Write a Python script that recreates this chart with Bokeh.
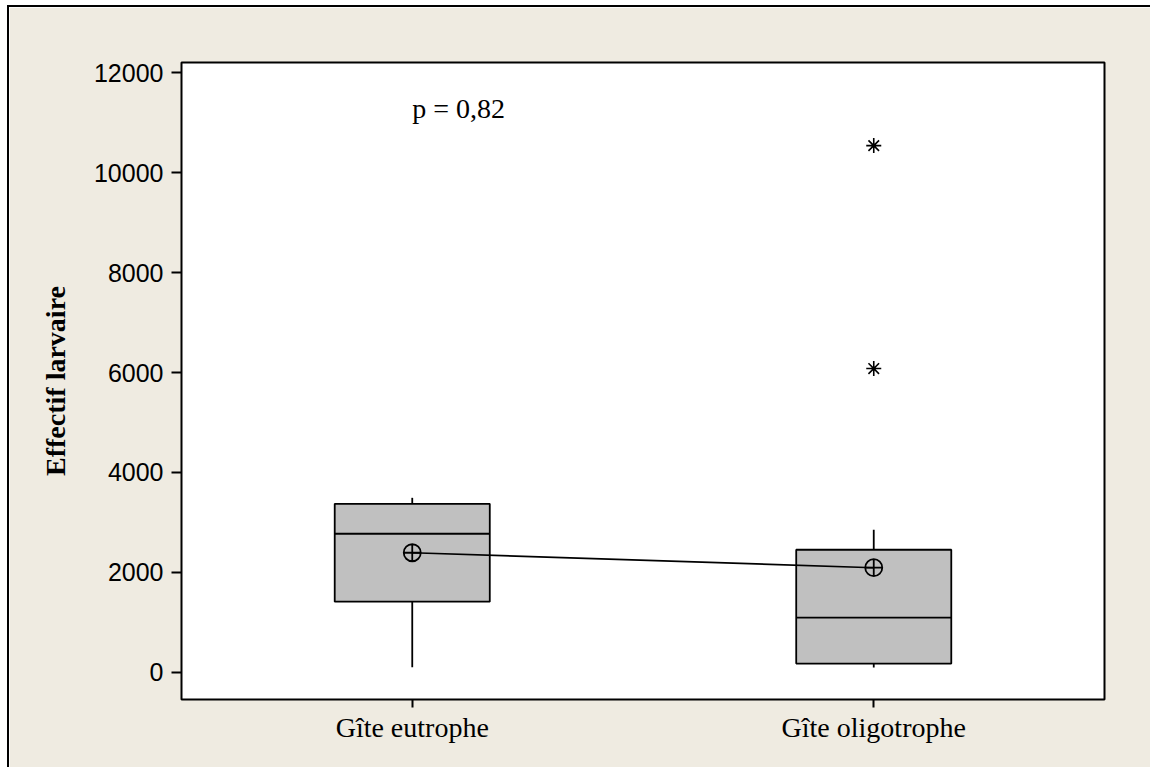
from bokeh.plotting import figure
from bokeh.models import FixedTicker, Range1d, Label
from bokeh.embed import file_html
from bokeh.resources import INLINE

# ---- data ----
categories = ["Gîte eutrophe", "Gîte oligotrophe"]
q1 = [1410, 170]
median = [2770, 1090]
q3 = [3370, 2450]
whisker_low = [96, 90]
whisker_high = [3490, 2850]
means = [2390, 2090]
outlier_category = ["Gîte oligotrophe", "Gîte oligotrophe"]
outlier_values = [10545, 6080]
y_ticks = [0, 2000, 4000, 6000, 8000, 10000, 12000]
p_text = "p = 0,82"

BEIGE = "#EFEBE1"
BOX_W = 0.336

pos = [i + 0.5 for i in range(len(categories))]
cat_pos = dict(zip(categories, pos))
out_x = [cat_pos[c] for c in outlier_category]

p = figure(width=1143, height=762,
           x_range=Range1d(0, len(categories)), y_range=Range1d(-550, 12210),
           output_backend="svg", toolbar_location=None,
           min_border_left=172, min_border_right=48,
           min_border_top=55, min_border_bottom=70,
           background_fill_color="white", border_fill_color=BEIGE,
           outline_line_color="black", outline_line_width=2,
           styles={"border-top": "2px solid black", "border-left": "2px solid black",
                   "margin-left": "7px", "margin-top": "5px"})

p.xgrid.visible = False
p.ygrid.visible = False

# whiskers
p.segment(x0=pos, x1=pos, y0=q3, y1=whisker_high, line_color="black", line_width=1.8)
p.segment(x0=pos, x1=pos, y0=q1, y1=whisker_low, line_color="black", line_width=1.8)
# boxes
left = [x - BOX_W / 2 for x in pos]
right = [x + BOX_W / 2 for x in pos]
p.quad(left=left, right=right, bottom=q1, top=q3, fill_color="#C0C0C0",
       line_color="black", line_width=1.8)
# medians
p.segment(x0=left, x1=right, y0=median, y1=median, line_color="black", line_width=1.8)
# mean connect line and symbols
p.line(x=pos, y=means, line_color="black", line_width=1.6)
p.scatter(x=pos, y=means, marker="circle_cross", size=17, fill_color=None,
          line_color="black", line_width=1.8)
# outliers
p.scatter(x=out_x, y=outlier_values, marker="asterisk", size=15,
          line_color="black", line_width=1.6)

p.add_layout(Label(x=pos[0], y=11280, text=p_text, text_font="Liberation Serif",
                   text_font_size="28px", text_color="black",
                   text_align="left", text_baseline="alphabetic"))

# axes
xa = p.xaxis[0]
xa.ticker = FixedTicker(ticks=pos)
xa.major_label_overrides = {x: c for x, c in zip(pos, categories)}
xa.minor_tick_line_color = None
xa.major_tick_in = 0
xa.major_tick_out = 8
xa.major_tick_line_width = 2
xa.axis_line_color = None
xa.major_label_text_font = "Liberation Serif"
xa.major_label_text_font_size = "28px"
xa.major_label_text_color = "black"
xa.major_label_standoff = 4

ya = p.yaxis[0]
ya.ticker = FixedTicker(ticks=y_ticks)
ya.major_label_overrides = {t: str(t) for t in y_ticks}
ya.minor_tick_line_color = None
ya.major_tick_in = 0
ya.major_tick_out = 10
ya.major_tick_line_width = 2
ya.axis_line_color = None
ya.major_label_text_font = "Liberation Sans"
ya.major_label_text_font_size = "25px"
ya.major_label_text_color = "black"
ya.major_label_standoff = 8
ya.axis_label = "Effectif larvaire"
ya.axis_label_text_font = "Liberation Serif"
ya.axis_label_text_font_style = "bold"
ya.axis_label_text_font_size = "28px"
ya.axis_label_text_color = "black"
ya.axis_label_standoff = 20

open("out.html", "w").write(file_html(p, INLINE))
